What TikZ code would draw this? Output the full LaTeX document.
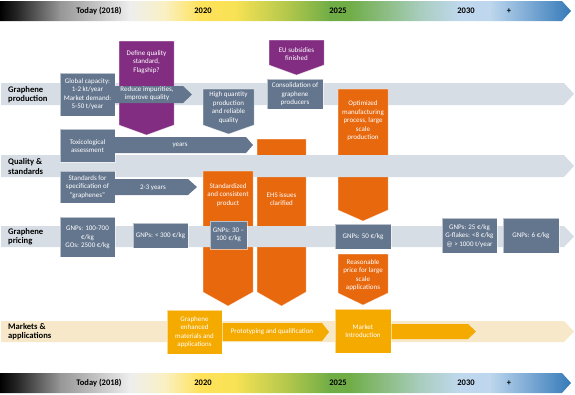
\documentclass[tikz,border=0pt]{standalone}
\usepackage{fontspec}
\setmainfont{Carlito}
\definecolor{slate}{RGB}{100,118,142}
\definecolor{purp}{RGB}{130,45,130}
\definecolor{org}{RGB}{232,104,14}
\definecolor{amb}{RGB}{245,170,0}
\definecolor{bandg}{RGB}{214,221,228}
\definecolor{bandy}{RGB}{246,232,200}
\definecolor{t0}{RGB}{0,0,0}
\definecolor{t1}{RGB}{45,45,45}
\definecolor{t2}{RGB}{150,150,150}
\definecolor{t3}{RGB}{238,238,238}
\definecolor{t4}{RGB}{250,240,195}
\definecolor{t5}{RGB}{255,226,90}
\definecolor{t6}{RGB}{248,226,85}
\definecolor{t7}{RGB}{175,198,75}
\definecolor{t8}{RGB}{112,173,71}
\definecolor{t9}{RGB}{112,173,71}
\definecolor{t10}{RGB}{168,205,190}
\definecolor{t11}{RGB}{192,216,238}
\definecolor{t12}{RGB}{190,215,238}
\definecolor{t13}{RGB}{46,117,182}
\newcommand\tlbar[2]{%
 \begin{scope}
 \clip (0,#1) -- (562,#1) -- (571,{(#1+#2)/2}) -- (562,#2) -- (0,#2) -- cycle;
 \foreach \a/\b/\ca/\cb in {0/20/t0/t1, 20/60/t1/t2, 60/130/t2/t3, 130/165/t3/t4, 165/200/t4/t5, 200/235/t5/t6, 235/290/t6/t7, 290/330/t7/t8, 330/350/t8/t9, 350/420/t9/t10, 420/460/t10/t11, 460/490/t11/t12, 490/575/t12/t13}
 \shade[left color=\ca, right color=\cb] (\a-0.4,#1-1) rectangle (\b+0.4,#2+1);
 \end{scope}}
\tikzset{
 txt/.style={text=white, font=\fontsize{7}{8.5}\selectfont, align=center, inner sep=0pt},
 lbl/.style={font=\bfseries\fontsize{8.6}{9.2}\selectfont, align=left, anchor=west, inner sep=0pt},
 tl/.style={font=\bfseries\fontsize{8.5}{9}\selectfont, inner sep=0pt},
 shp/.style={draw=white, draw opacity=0.55, line width=0.5pt}
}
\begin{document}
\begin{tikzpicture}[x=1pt,y=-1pt]
\useasboundingbox (0,0) rectangle (575,394);
% timelines
\tlbar{1}{21}
\tlbar{373}{393}
\foreach \p/\t/\n in {99/Today (2018)/a, 203/2020/b, 338/2025/c, 466/2030/d, 509/+/e}{
 \node[tl] (top\n) at (\p,11) {\t};
 \node[tl] (bot\n) at (\p,383) {\t};
}
% production band
\fill[bandg] (1,83) -- (564,83) -- (574,94) -- (564,105) -- (1,105) -- cycle;
\node[lbl] (lprod) at (8,94.5) {Graphene\\production};
\fill[purp,shp] (119,41) -- (174,41) -- (174,125) -- (146.5,135) -- (119,125) -- cycle;
\node[txt] (define) at (146.5,62) {Define quality\\standard,\\Flagship?};
\fill[slate,shp] (60,73) rectangle (115,116);
\node[txt] (global) at (87.5,94) {Global capacity:\\1-2 kt/year\\Market demand:\\5-50 t/year};
\fill[slate] (115,86) -- (183,86) -- (192,94.5) -- (183,103) -- (115,103) -- cycle;
\node[txt] (reduce) at (147,93.5) {Reduce impurities,\\improve quality};
\fill[slate,shp] (203,89) -- (254,89) -- (254,125) -- (228.5,134) -- (203,125) -- cycle;
\node[txt] (highq) at (228.5,107.5) {High quantity\\production\\and reliable\\quality};
\fill[purp,shp] (269,40) -- (324,40) -- (324,65) -- (296.5,75) -- (269,65) -- cycle;
\node[txt] (eu) at (296.5,54) {EU subsidies\\finished};
\fill[slate,shp] (267,79) rectangle (323,109);
\node[txt] (consol) at (295,94.5) {Consolidation of\\graphene\\producers};
% orange columns
\fill[org,shp] (338,89) -- (388,89) -- (388,210) -- (363,221) -- (338,210) -- cycle;
\node[txt] (optim) at (363,121) {Optimized\\manufacturing\\process, large\\scale\\production};
\fill[org,shp] (257,139) -- (306,139) -- (306,292) -- (281.5,306) -- (257,292) -- cycle;
% quality band
\fill[bandg] (1,155) -- (564,155) -- (574,166) -- (564,177) -- (1,177) -- cycle;
\node[lbl] (lqual) at (8,166.5) {Quality \&\\standards};
\node[txt] (ehs) at (281.5,199) {EHS issues\\clarified};
\fill[org,shp] (203,171) -- (253,171) -- (253,292) -- (228,306) -- (203,292) -- cycle;
\node[txt] (stdz) at (228,195) {Standardized\\and consistent\\product};
\fill[slate,shp] (60,129) rectangle (115,162);
\node[txt] (toxic) at (87.5,146) {Toxicological\\assessment};
\fill[slate] (115,137) -- (246,137) -- (253,145) -- (246,153) -- (115,153) -- cycle;
\node[txt] (years) at (180,145.5) {years};
\fill[slate,shp] (60,171) rectangle (115,203);
\node[txt] (stds) at (87.5,187) {Standards for\\specification of\\"graphenes"};
\fill[slate] (115,179) -- (188,179) -- (197,187) -- (188,195) -- (115,195) -- cycle;
\node[txt] (y23) at (153,187.5) {2-3 years};
% pricing band
\fill[bandg] (1,226) -- (564,226) -- (574,236.5) -- (564,247) -- (1,247) -- cycle;
\node[lbl] (lpric) at (8,236.5) {Graphene\\pricing};
\fill[slate,shp] (60,217) rectangle (115,257);
\node[txt] (p1) at (87.5,237.5) {GNPs: 100-700\\€/kg\\GOs: 2500 €/kg};
\fill[slate,shp] (133,223) rectangle (188,248);
\node[txt] (p2) at (160.5,236) {GNPs: < 300 €/kg};
\fill[slate,shp] (210,221) rectangle (247,249);
\node[txt] (p3) at (228.5,235) {GNPs: 30 –\\100 €/kg};
\fill[slate,shp] (335,224) rectangle (391,249);
\node[txt] (p4) at (363,236.5) {GNPs: 50 €/kg};
\fill[slate,shp] (442,218) rectangle (497,253);
\node[txt] (p5) at (469.5,236) {GNPs: 25 €/kg\\G-flakes: <8 €/kg\\@ > 1000 t/year};
\fill[slate,shp] (503,218) rectangle (559,253);
\node[txt] (p6) at (531,235.5) {GNPs: 6 €/kg};
\fill[org,shp] (338,254) -- (388,254) -- (388,293) -- (363,305) -- (338,293) -- cycle;
\node[txt] (reason) at (363,275) {Reasonable\\price for large\\scale\\applications};
% markets band
\fill[bandy] (1,321) -- (564,321) -- (574,331.5) -- (564,342) -- (1,342) -- cycle;
\node[lbl] (lmark) at (8,331.5) {Markets \&\\applications};
\fill[amb] (222,323) -- (322,323) -- (329,332) -- (322,341) -- (222,341) -- cycle;
\node[txt] (proto) at (272,332) {Prototyping and qualification};
\fill[amb,shp] (167,310) rectangle (222,354);
\node[txt] (genh) at (194.5,332) {Graphene\\enhanced\\materials and\\applications};
\fill[amb] (391,324) -- (468,324) -- (476,331.5) -- (468,339) -- (391,339) -- cycle;
\fill[amb,shp] (335,309) rectangle (391,353);
\node[txt] (mintro) at (363,331) {Market\\Introduction};
\end{tikzpicture}
\end{document}
